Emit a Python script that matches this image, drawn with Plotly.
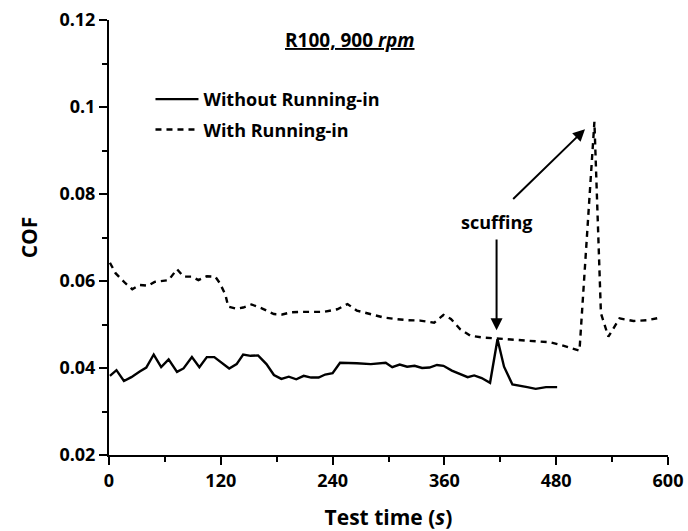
import plotly.graph_objects as go

# Without Running-in (solid)
t_without = [1, 8, 16, 24, 33, 40, 48, 56, 64, 73, 80, 89, 97, 105, 113, 121, 129, 137, 144, 152,
             160, 169, 177, 185, 193, 201, 209, 217, 225, 232, 240, 248, 257, 266, 281, 297, 304,
             312, 320, 328, 336, 344, 352, 359, 368, 377, 385, 392, 400, 409, 417, 424, 433, 449,
             458, 469, 481]
cof_without = [0.0382, 0.0395, 0.0370, 0.0379, 0.0392, 0.0401, 0.0431, 0.0402, 0.0420, 0.0391,
               0.0399, 0.0425, 0.0402, 0.0425, 0.0425, 0.0413, 0.0399, 0.0409, 0.0431, 0.0428,
               0.0429, 0.0409, 0.0384, 0.0375, 0.0380, 0.0374, 0.0382, 0.0378, 0.0378, 0.0385,
               0.0388, 0.0412, 0.0412, 0.0411, 0.0409, 0.0412, 0.0402, 0.0408, 0.0403, 0.0405,
               0.0400, 0.0401, 0.0407, 0.0405, 0.0394, 0.0386, 0.0379, 0.0383, 0.0377, 0.0366,
               0.0466, 0.0403, 0.0362, 0.0356, 0.0352, 0.0356, 0.0356]

# With Running-in (dashed)
t_with = [1, 7, 17, 25, 33, 42, 49, 57, 64, 73, 80, 89, 96, 105, 114, 119, 125, 128, 137, 144,
          153, 164, 177, 186, 195, 204, 216, 230, 245, 256, 266, 281, 295, 306, 320, 334, 349,
          359, 367, 377, 388, 402, 417, 431, 453, 474, 485, 505, 521, 528, 536, 548, 563, 578, 592]
cof_with = [0.0642, 0.0618, 0.0596, 0.0581, 0.0591, 0.0589, 0.0598, 0.0601, 0.0602, 0.0627,
            0.0610, 0.0610, 0.0602, 0.0611, 0.0610, 0.0595, 0.0568, 0.0541, 0.0536, 0.0539,
            0.0546, 0.0537, 0.0524, 0.0523, 0.0528, 0.0529, 0.0529, 0.0529, 0.0535, 0.0547,
            0.0532, 0.0524, 0.0516, 0.0513, 0.0510, 0.0509, 0.0504, 0.0522, 0.0513, 0.0489,
            0.0474, 0.0470, 0.0468, 0.0466, 0.0463, 0.0459, 0.0453, 0.0440, 0.0966, 0.0526,
            0.0472, 0.0514, 0.0508, 0.0510, 0.0516]

x_ticks = [0, 120, 240, 360, 480, 600]
y_ticks = [0.02, 0.04, 0.06, 0.08, 0.1, 0.12]
y_tick_labels = ["0.02", "0.04", "0.06", "0.08", "0.1", "0.12"]

FONT = "Open Sans"

fig = go.Figure()
fig.add_trace(go.Scatter(x=t_without, y=cof_without, mode="lines", name="Without Running-in",
                         legendgroup="a", line=dict(color="black", width=2.4)))
fig.add_trace(go.Scatter(x=t_with, y=cof_with, mode="lines", name="With Running-in",
                         legendgroup="b", line=dict(color="black", width=2.4, dash="6px,5px")))

axis_common = dict(showgrid=False, zeroline=False, showline=True, linecolor="black", linewidth=2,
                   ticks="outside", tickcolor="black", tickwidth=2, ticklen=8, automargin=False,
                   ticklabeloverflow="allow",
                   tickfont=dict(family=FONT, size=18, color="black", weight="bold"))

fig.update_xaxes(range=[0, 600], tickvals=x_ticks, **axis_common,
                 minor=dict(ticks="outside", dtick=60, ticklen=5, tickwidth=2, tickcolor="black", tick0=0),
                 title=dict(text="Test time (<i>s</i>)", font=dict(family=FONT, size=21, color="black", weight="bold"),
                            standoff=21))
fig.update_yaxes(range=[0.02, 0.12], tickvals=y_ticks, ticktext=y_tick_labels, **axis_common,
                 minor=dict(ticks="outside", dtick=0.01, ticklen=5, tickwidth=2, tickcolor="black", tick0=0.02),
                 title=dict(text="COF", font=dict(family=FONT, size=21, color="black", weight="bold"),
                            standoff=16))

fig.add_annotation(x=258.7, y=0.1154, xref="x", yref="y", text="<u>R100, 900 <i>rpm</i></u>",
                   showarrow=False, font=dict(family=FONT, size=19, color="black", weight="bold"))

fig.add_annotation(x=415.5, y=0.0736, xref="x", yref="y", text="scuffing", showarrow=False,
                   font=dict(family=FONT, size=18, color="black", weight="bold"))
fig.add_annotation(x=416, y=0.0487, ax=416, ay=0.0699, xref="x", yref="y", axref="x", ayref="y",
                   text="", showarrow=True, arrowhead=2, arrowsize=1.2, arrowwidth=2, arrowcolor="black")
fig.add_annotation(x=510.9, y=0.0949, ax=432.2, ay=0.0785, xref="x", yref="y", axref="x", ayref="y",
                   text="", showarrow=True, arrowhead=2, arrowsize=1.2, arrowwidth=2, arrowcolor="black")

fig.update_layout(
    width=688, height=531,
    margin=dict(l=109, r=20, t=20, b=76),
    paper_bgcolor="white", plot_bgcolor="white",
    showlegend=True,
    legend=dict(x=0.0742, y=0.86, xanchor="left", yanchor="top", bgcolor="rgba(0,0,0,0)",
                font=dict(family=FONT, size=18, color="black", weight="bold"),
                itemwidth=43, tracegroupgap=4),
)

fig.write_html("out.html", config={"displayModeBar": False},
               post_script="document.body.style.margin='0';document.body.style.overflow='hidden';")
